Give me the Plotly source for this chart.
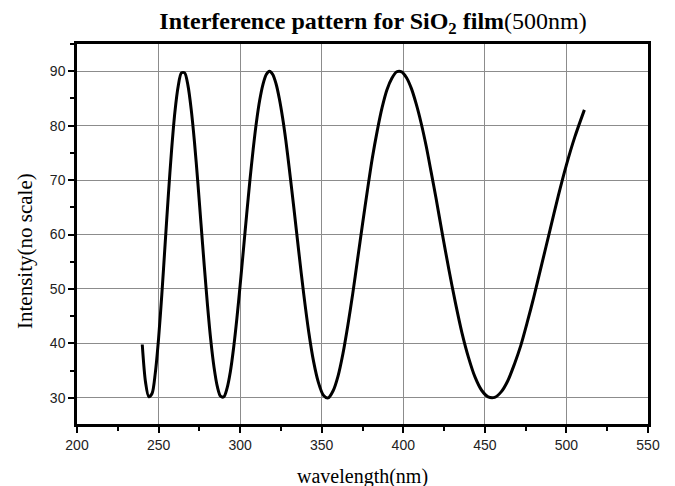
import plotly.graph_objects as go

wavelength = [240, 242, 244, 246, 248, 250, 252, 254, 256, 258, 260, 262, 264, 266, 268,
              270, 272, 274, 276, 278, 280, 282, 284, 286, 288, 290, 292, 294, 296, 298,
              300, 302, 304, 306, 308, 310, 312, 314, 316, 318, 320, 322, 324, 326, 328,
              330, 333, 336, 339, 342, 345, 348, 351, 354, 357, 360, 363, 366, 369, 372,
              375, 378, 381, 384, 387, 390, 393, 396, 399, 402, 405, 408, 411, 414, 417,
              420, 424, 428, 432, 436, 440, 444, 448, 452, 456, 460, 464, 468, 472, 476,
              480, 485, 490, 495, 500, 505, 511]
intensity = [39.8, 32.9, 30.2, 30.8, 34.6, 40.9, 49.0, 58.2, 67.3, 75.6, 82.5, 87.2, 89.7, 89.7, 87.4,
             83.0, 77.0, 69.8, 62.0, 54.3, 47.0, 40.6, 35.6, 32.1, 30.3, 30.2, 31.8, 34.8, 39.2, 44.6,
             50.7, 57.2, 63.7, 70.0, 75.7, 80.7, 84.7, 87.6, 89.4, 90.0, 89.4, 87.7, 85.0, 81.5, 77.3,
             72.4, 64.7, 56.7, 49.0, 42.2, 36.7, 32.8, 30.5, 30.0, 31.3, 34.0, 38.1, 43.3, 49.1, 55.5,
             61.9, 68.1, 74.0, 79.0, 83.3, 86.6, 88.7, 89.9, 89.9, 88.8, 86.8, 83.9, 80.4, 76.3, 71.6,
             66.8, 60.0, 53.5, 47.4, 41.9, 37.4, 33.8, 31.4, 30.2, 30.1, 31.1, 33.1, 36.1, 39.6, 43.9,
             48.5, 54.7, 60.9, 67.1, 72.8, 77.8, 82.9]

x_ticks = [200, 250, 300, 350, 400, 450, 500, 550]
y_ticks = [30, 40, 50, 60, 70, 80, 90]

W, H = 675, 486
serif = "Liberation Serif, Times New Roman, serif"
sans = "Liberation Sans, Arial, sans-serif"

fig = go.Figure()
fig.add_trace(go.Scatter(
    x=wavelength, y=intensity, mode="lines",
    line=dict(color="black", width=3, shape="spline", smoothing=0.8),
    showlegend=False, hoverinfo="skip",
))

axis_common = dict(
    showline=True, linecolor="black", linewidth=2.5, mirror=True,
    ticks="outside", ticklen=6, tickwidth=2, tickcolor="black",
    showgrid=True, gridcolor="#8c8c8c", gridwidth=1,
    zeroline=False,
    tickfont=dict(family=sans, size=14, color="#222"),
)

fig.update_xaxes(
    range=[200, 550], tickvals=x_ticks,
    minor=dict(ticks="outside", ticklen=4, tickwidth=2, tickcolor="black", dtick=25, showgrid=False),
    **axis_common,
)
fig.update_yaxes(
    range=[25.2, 95], tickvals=y_ticks,
    minor=dict(ticks="outside", ticklen=4, tickwidth=2, tickcolor="black", dtick=5, showgrid=False),
    **axis_common,
)

fig.add_annotation(
    text="wavelength(nm)", xref="paper", yref="paper",
    x=(362 - 77) / (648 - 77), y=-(476 - 424) / (424 - 44),
    xanchor="center", yanchor="middle", showarrow=False,
    font=dict(family=serif, size=20, color="black"),
)
fig.add_annotation(
    text="Intensity(no scale)", xref="paper", yref="paper",
    x=-(77 - 25) / (648 - 77), y=(424 - 251) / (424 - 44),
    xanchor="center", yanchor="middle", showarrow=False, textangle=-90,
    font=dict(family=serif, size=21, color="black"),
)

fig.update_layout(
    width=W, height=H,
    margin=dict(l=77, r=27, t=44, b=62),
    paper_bgcolor="white", plot_bgcolor="white",
    title=dict(
        text="<b>Interference pattern for SiO<sub>2</sub> film</b>(500nm)",
        font=dict(family=serif, size=24, color="black"),
        x=373 / W, xanchor="center", y=1 - 21 / H, yanchor="middle",
    ),
)

fig.write_html("out.html")
